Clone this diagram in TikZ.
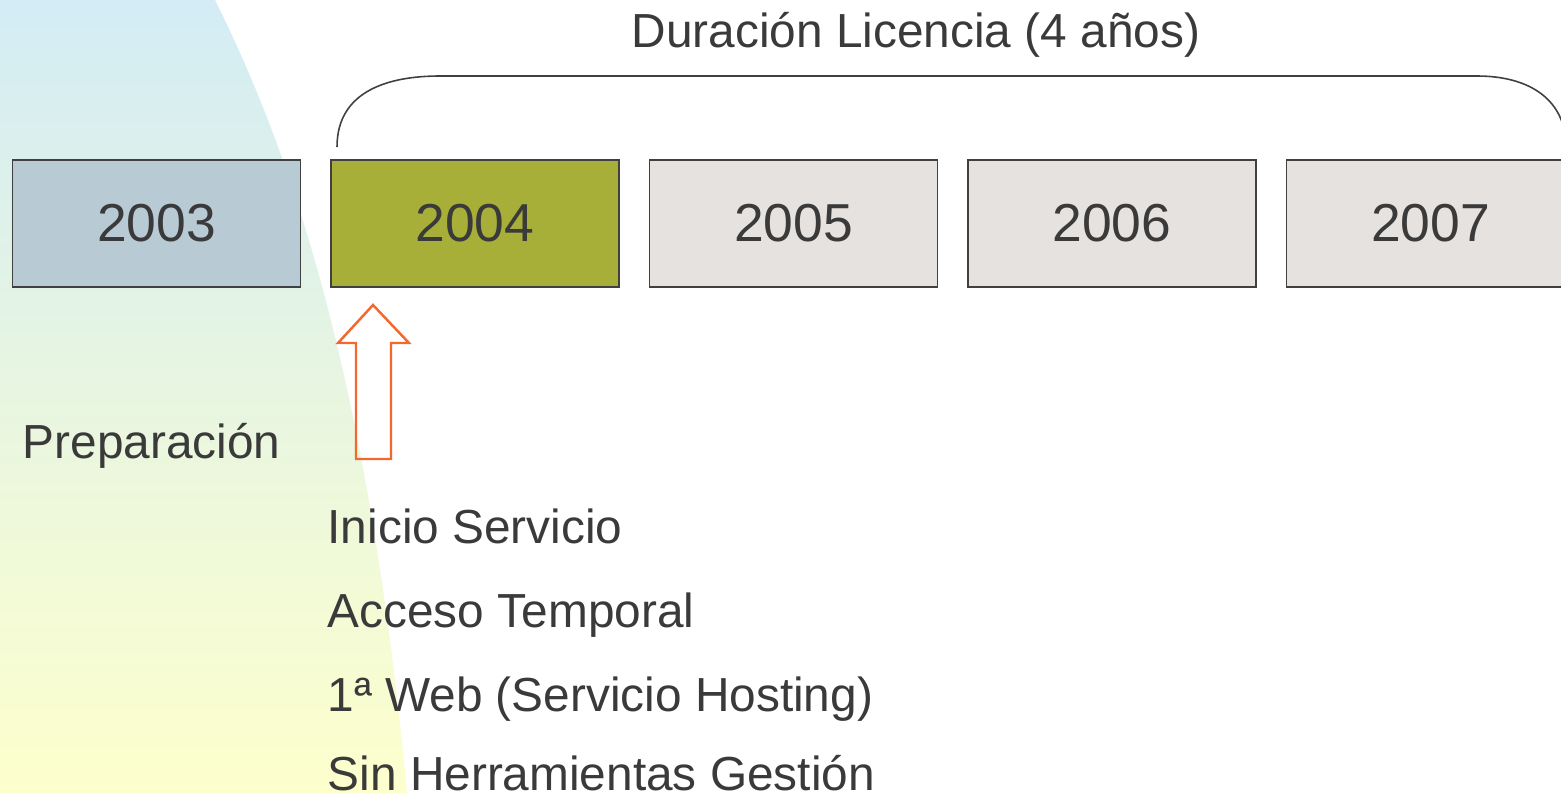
\documentclass[tikz,border=0pt]{standalone}
\usepackage{fontspec}
\setmainfont{Liberation Sans}
\usetikzlibrary{positioning}

\definecolor{txtgray}{HTML}{3A3A3A}
\definecolor{boxline}{HTML}{404040}
\definecolor{blue03}{HTML}{B8CBD5}
\definecolor{olive04}{HTML}{A8AF38}
\definecolor{grey05}{HTML}{E6E2DF}
\definecolor{arroworange}{HTML}{F2682F}
\definecolor{bgtop}{HTML}{D3ECF5}
\definecolor{bgbottom}{HTML}{FDFFCC}

\begin{document}
\begin{tikzpicture}[x=0.1mm, y=-0.1mm,
    yearbox/.style={draw=boxline, line width=0.45pt, minimum width=28.8mm, minimum height=12.7mm,
        inner sep=0pt, outer sep=0pt, text=txtgray, font=\fontsize{15.2}{18}\selectfont},
    txt/.style={anchor=base west, inner sep=0pt, text=txtgray, font=\fontsize{13.6}{16}\selectfont}]
        \useasboundingbox (0, 0) rectangle (1561, 793);
        \clip (0, 0) rectangle (1561, 793);
        \shade[top color=bgtop, bottom color=bgbottom] (0, 0) -- (215, 0) .. controls (300, 170) and (370, 400) .. (407, 793) -- (0, 793) -- cycle;

        \node[yearbox, fill=blue03] (y2003) at (156.5, 223.5) {2003};
        \node[yearbox, fill=olive04, right=3.05mm of y2003] (y2004) {2004};
        \node[yearbox, fill=grey05, right=3.05mm of y2004] (y2005) {2005};
        \node[yearbox, fill=grey05, right=3.05mm of y2005] (y2006) {2006};
        \node[yearbox, fill=grey05, right=3.05mm of y2006] (y2007) {2007};

        \draw[boxline, line width=0.45pt] (337, 147) .. controls (337, 90) and (390, 76) .. (440, 76) -- (1477, 76)
            .. controls (1530, 76) and (1566, 100) .. (1566, 147);
        \node[txt, anchor=base] (licencia) at (916, 47) {Duración Licencia (4 años)};

        \draw[arroworange, line width=0.7pt] (373, 305) -- (409, 343) -- (391, 343) -- (391, 459)
            -- (356, 459) -- (356, 343) -- (338, 343) -- cycle;

        \node[txt] (prep) at (22, 458) {Preparación};
        \node[txt] (inicio) at (327, 543) {Inicio Servicio};
        \node[txt] (acceso) at (327, 627) {Acceso Temporal};
        \node[txt] (web) at (327, 711) {1ª Web (Servicio Hosting)};
        \node[txt] (gestion) at (327, 790) {Sin Herramientas Gestión};
    \end{tikzpicture}
\end{document}
